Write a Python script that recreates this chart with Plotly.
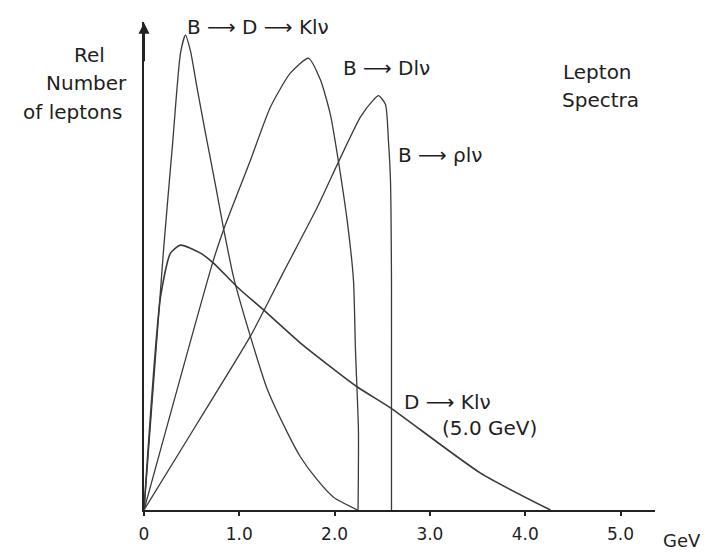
import plotly.graph_objects as go

# ---- data (x in GeV, y = relative number of leptons) ----
bdk_x = [0.0, 0.205, 0.299, 0.383, 0.435, 0.488, 0.551, 0.645, 0.750, 0.834, 0.939, 1.118, 1.296, 1.506, 1.642, 1.821, 1.989, 2.241]
bdk_y = [0.0, 0.550, 0.772, 0.966, 1.004, 0.970, 0.899, 0.797, 0.687, 0.596, 0.493, 0.366, 0.254, 0.163, 0.112, 0.063, 0.027, 0.0]

bdlv_x = [0.0, 0.719, 0.834, 1.118, 1.327, 1.537, 1.726, 1.852, 1.957, 2.041, 2.135, 2.198, 2.219, 2.250, 2.246]
bdlv_y = [0.0, 0.522, 0.592, 0.740, 0.852, 0.924, 0.955, 0.909, 0.835, 0.736, 0.607, 0.486, 0.338, 0.169, 0.0]

brho_x = [0.0, 0.561, 1.118, 1.464, 1.821, 2.041, 2.272, 2.408, 2.460, 2.533, 2.565, 2.586, 2.597, 2.597]
brho_y = [0.0, 0.184, 0.368, 0.503, 0.641, 0.736, 0.831, 0.867, 0.876, 0.858, 0.780, 0.698, 0.486, 0.0]

dk_x = [0.0, 0.173, 0.278, 0.383, 0.593, 0.729, 0.981, 1.254, 1.642, 2.240, 2.586, 3.531, 4.265]
dk_y = [0.0, 0.450, 0.543, 0.560, 0.543, 0.522, 0.471, 0.423, 0.353, 0.260, 0.216, 0.078, 0.0]

tick_vals = [0, 1, 2, 3, 4, 5]
tick_text = ["0", "1.0", "2.0", "3.0", "4.0", "5.0"]

FONT = "DejaVu Sans"
LINE = "#3a3a3a"
TEXT = "#1e1e1e"

fig = go.Figure()
for xs, ys, name, w in [
    (bdk_x, bdk_y, "B→D→Klν", 1.3),
    (bdlv_x, bdlv_y, "B→Dlν", 1.3),
    (brho_x, brho_y, "B→ρlν", 1.3),
    (dk_x, dk_y, "D→Klν (5.0 GeV)", 1.6),
]:
    fig.add_trace(go.Scatter(x=xs, y=ys, mode="lines", name=name,
                             line=dict(color=LINE, width=w, shape="spline", smoothing=0.6),
                             hoverinfo="skip", showlegend=False))

labels = [
    ("B ⟶ D ⟶ Klν", 0.2231, 0.9898, "center"),
    ("B ⟶ Dlν", 0.4755, 0.9057, "center"),
    ("Lepton", 0.816, 0.8975, "left"),
    ("Spectra", 0.8141, 0.8402, "left"),
    ("B ⟶ ρlν", 0.5812, 0.7275, "center"),
    ("D ⟶ Klν", 0.5949, 0.2213, "center"),
    ("(5.0 GeV)", 0.6771, 0.168, "center"),
    ("Rel", -0.1057, 0.9324, "center"),
    ("Number", -0.1135, 0.875, "center"),
    ("of leptons", -0.1409, 0.8156, "center"),
]
for txt, x, y, anc in labels:
    fig.add_annotation(text=txt, x=x, y=y, xref="paper", yref="paper",
                       xanchor=anc, yanchor="middle", showarrow=False,
                       font=dict(family=FONT, size=20, color=TEXT))

# axis unit label
fig.add_annotation(text="GeV", x=1.053, y=-0.062, xref="paper", yref="paper",
                   xanchor="center", yanchor="middle", showarrow=False,
                   font=dict(family=FONT, size=18, color=TEXT))

# arrow head on the vertical axis
fig.add_annotation(x=0, y=1.03, xref="x", yref="y", ax=0, ay=40,
                   showarrow=True, arrowhead=2, arrowsize=1.1, arrowwidth=2,
                   arrowcolor="#222", text="")

# the page body has an 8px margin on each side, so the figure is sized to fit 708x558
fig.update_layout(
    width=692, height=542,
    margin=dict(l=136, r=45, t=14, b=40, autoexpand=False),
    paper_bgcolor="white", plot_bgcolor="white",
    xaxis=dict(range=[0, 5.362], showgrid=False, zeroline=False, automargin=False,
               showline=True, linecolor="#222", linewidth=2,
               tickmode="array", tickvals=tick_vals, ticktext=tick_text,
               ticks="outside", ticklen=4, tickwidth=1.5, tickcolor="#222",
               ticklabelstandoff=4,
               tickfont=dict(family=FONT, size=17, color=TEXT)),
    yaxis=dict(range=[0, 1.0317], showgrid=False, zeroline=False, automargin=False,
               showline=True, linecolor="#222", linewidth=2,
               showticklabels=False, ticks=""),
)

fig.write_html("out.html")
